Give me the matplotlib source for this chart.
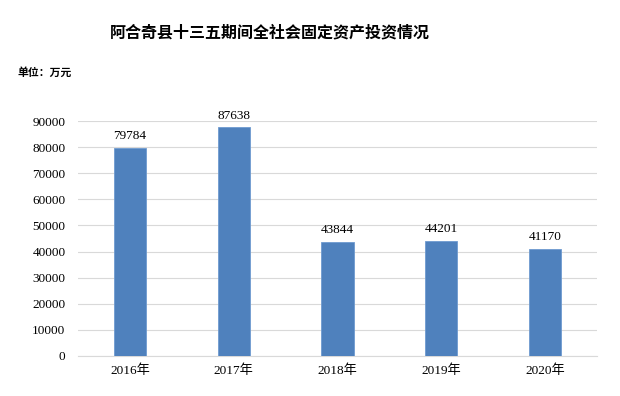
import matplotlib
matplotlib.use("Agg")
import matplotlib.pyplot as plt

categories = ["2016年", "2017年", "2018年", "2019年", "2020年"]
values = [79784, 87638, 43844, 44201, 41170]
yticks = [0, 10000, 20000, 30000, 40000, 50000, 60000, 70000, 80000, 90000]

title = "阿合奇县十三五期间全社会固定资产投资情况"
unit = "单位：万元"

fam = ["Liberation Serif", "Noto Sans CJK SC", "DejaVu Sans"]
cjk = ["Noto Sans CJK SC", "DejaVu Sans"]

fig = plt.figure(figsize=(6.2, 3.96), dpi=100)
ax = fig.add_axes([78/620, 40/396, (597-78)/620, (356-121)/396])

x = range(len(categories))
bars = ax.bar(x, values, width=0.31, color="#4F81BD", edgecolor="#6F9BD0", linewidth=0.6, zorder=3)
for xi, v in zip(x, values):
    ax.annotate(str(v), (xi, v), xytext=(0, 4), textcoords="offset points",
                ha="center", va="bottom", fontsize=9.5, family=fam, color="#000000",
                annotation_clip=False)

ax.set_xlim(-0.5, len(categories) - 0.5)
ax.set_ylim(0, 90000)
ax.set_yticks(yticks)
ax.set_yticklabels([str(t) for t in yticks], family=fam, fontsize=9.5)
ax.set_xticks(list(x))
ax.set_xticklabels(categories, family=fam, fontsize=9.5)
ax.yaxis.grid(True, color="#D9D9D9", linewidth=0.8, zorder=0)
ax.set_axisbelow(True)
for s in ["top", "right", "left"]:
    ax.spines[s].set_visible(False)
ax.spines["bottom"].set_color("#D9D9D9")
ax.tick_params(axis="both", length=0, pad=6)
ax.tick_params(axis="y", pad=9)

fig.text(270/620, 1 - 32/396, title, ha="center", va="center", fontsize=11.5,
         fontweight="bold", family=cjk)
fig.text(17/620, 1 - 72/396, unit, ha="left", va="center", fontsize=7.8,
         fontweight="bold", family=cjk)

fig.savefig("out.png", dpi=100)
